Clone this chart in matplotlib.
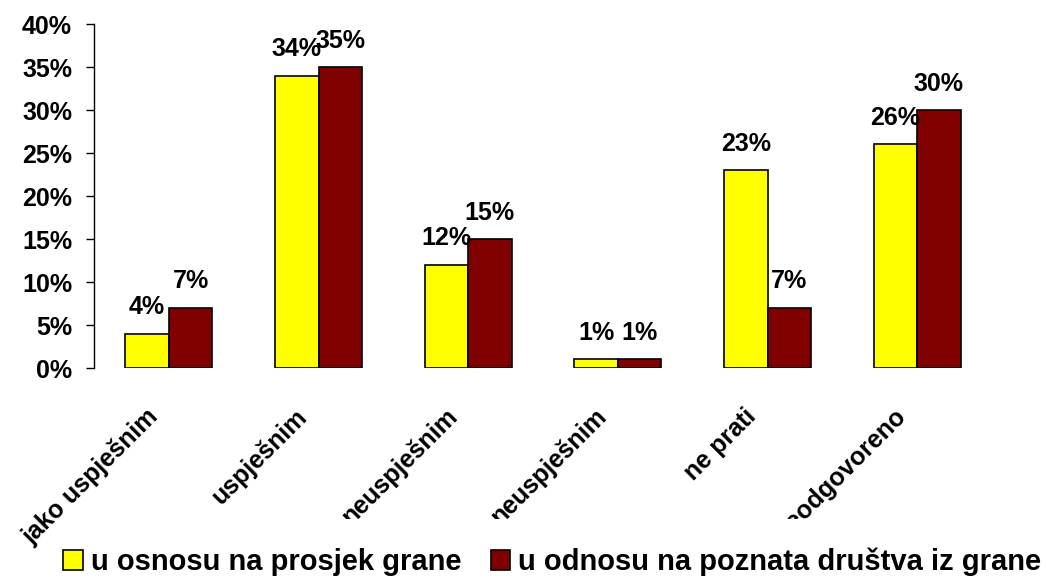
import matplotlib
matplotlib.use('Agg')
import matplotlib.pyplot as plt
from matplotlib.transforms import Bbox, TransformedBbox

plt.rcParams['font.family'] = ['Liberation Sans', 'DejaVu Sans']
plt.rcParams['font.weight'] = 'bold'

# Data
categories = ['jako uspješnim', 'uspješnim', 'neuspješnim', 'neuspješnim', 'ne prati', 'neodgovoreno']
clipped = [False, False, True, True, False, True]
prosjek_grane = [4, 34, 12, 1, 23, 26]
poznata_drustva = [7, 35, 15, 1, 7, 30]
series_names = ['u osnosu na prosjek grane', 'u odnosu na poznata društva iz grane']
y_ticks = [0, 5, 10, 15, 20, 25, 30, 35, 40]

fig = plt.figure(figsize=(10.46, 5.79), dpi=100)
ax = fig.add_axes([0.0899, 0.3644, 0.8585, 0.5941])

x = list(range(len(categories)))
w = 0.29
b1 = ax.bar([i - w / 2 for i in x], prosjek_grane, width=w, color='#FFFF00',
            edgecolor='black', linewidth=1.2, label=series_names[0])
b2 = ax.bar([i + w / 2 for i in x], poznata_drustva, width=w, color='#800000',
            edgecolor='black', linewidth=1.2, label=series_names[1])

# value labels above the bars
for bars, vals in [(b1, prosjek_grane), (b2, poznata_drustva)]:
    for rect, v in zip(bars, vals):
        ax.annotate(f'{v}%', xy=(rect.get_x() + rect.get_width() / 2, v),
                    xytext=(0, 14), textcoords='offset points',
                    ha='center', va='baseline', fontsize=18, fontweight='bold')

ax.set_xlim(-0.5, len(categories) - 0.5)
ax.set_ylim(0, 40)
ax.set_yticks(y_ticks)
ax.set_yticklabels([f'{t}%' for t in y_ticks], fontsize=18, fontweight='bold')
ax.tick_params(axis='y', direction='out', length=5.8, width=1, pad=10)
ax.set_xticks([])
for s in ['top', 'right', 'bottom']:
    ax.spines[s].set_visible(False)
ax.spines['left'].set_linewidth(1)

# rotated category labels, long ones get cut off at the bottom like in the original
clip = TransformedBbox(Bbox([[0, 60 / 579], [1, 1]]), fig.transFigure)
for i, (name, cut) in enumerate(zip(categories, clipped)):
    t = ax.annotate(name, xy=(i, 0), xycoords=('data', 'axes fraction'),
                    xytext=(-17, -26), textcoords='offset points',
                    ha='right', va='top', rotation=45, rotation_mode='anchor',
                    fontsize=18, fontweight='bold', annotation_clip=False)
    if cut:
        t.set_clip_on(True)
        t.set_clip_box(clip)

fig.legend(handles=[b1, b2], labels=series_names, loc='center',
           bbox_to_anchor=(0.528, 0.029), ncol=2, frameon=False,
           prop={'size': 21, 'weight': 'bold'}, handlelength=0.68,
           handleheight=0.65, handletextpad=0.27, columnspacing=1.0,
           borderpad=0, borderaxespad=0)

fig.savefig('out.png', dpi=100)
